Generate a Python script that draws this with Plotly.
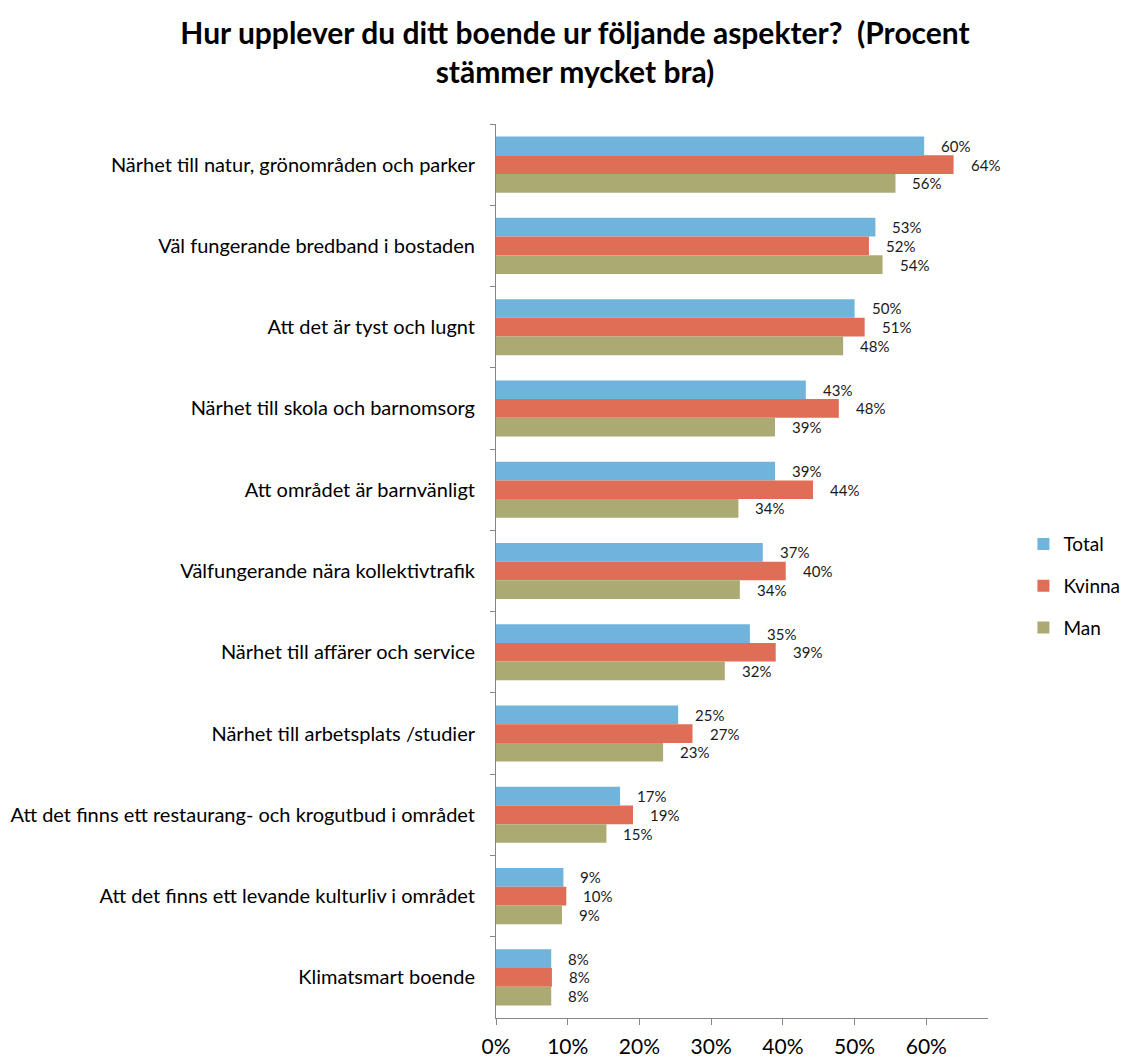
import plotly.graph_objects as go

categories = [
    "Närhet till natur, grönområden och parker",
    "Väl fungerande bredband i bostaden",
    "Att det är tyst och lugnt",
    "Närhet till skola och barnomsorg",
    "Att området är barnvänligt",
    "Välfungerande nära kollektivtrafik",
    "Närhet till affärer och service",
    "Närhet till arbetsplats /studier",
    "Att det finns ett restaurang- och krogutbud i området",
    "Att det finns ett levande kulturliv i området",
    "Klimatsmart boende",
]
total = [0.597, 0.529, 0.500, 0.432, 0.389, 0.372, 0.354, 0.254, 0.173, 0.094, 0.077]
kvinna = [0.638, 0.520, 0.514, 0.478, 0.442, 0.404, 0.390, 0.274, 0.191, 0.098, 0.078]
man = [0.557, 0.539, 0.484, 0.389, 0.338, 0.340, 0.319, 0.233, 0.154, 0.092, 0.077]
series_names = ["Total", "Kvinna", "Man"]
colors = ["#71B4DB", "#E06D56", "#ACAA73"]
x_ticks = [0, 0.1, 0.2, 0.3, 0.4, 0.5, 0.6]

FONT = "Lato"
# page body has an 8px margin, so the figure is sized/positioned to compensate
W, H = 1122, 1049
M_L, M_R, M_T, M_B = 488, 142, 116, 39
BARGAP = 0.31

fig = go.Figure()
for name, vals, col in zip(series_names, [total, kvinna, man], colors):
    fig.add_trace(go.Bar(
        y=categories, x=vals, name=name, orientation="h",
        marker=dict(color=col, line=dict(width=0)),
        legendgroup=name,
    ))

plot_h = H - M_T - M_B
cat_px = plot_h / len(categories)
bar_px = cat_px * (1 - BARGAP) / 3
shifts = [bar_px, 0, -bar_px]
for vals, sh in zip([total, kvinna, man], shifts):
    for c, v in zip(categories, vals):
        fig.add_annotation(
            x=v, y=c, text=f"{round(v*100)}%", showarrow=False,
            xanchor="left", yanchor="middle", xshift=15, yshift=sh,
            font=dict(family=FONT, size=15, color="#1a1a1a"),
        )

fig.update_layout(
    width=W, height=H,
    margin=dict(l=M_L, r=M_R, t=M_T, b=M_B, autoexpand=False),
    paper_bgcolor="white", plot_bgcolor="white",
    barmode="group", bargap=BARGAP, bargroupgap=0,
    title=dict(
        text="Hur upplever du ditt boende ur följande aspekter?\u00a0 (Procent<br>stämmer mycket bra)",
        x=567 / W, xanchor="center", xref="container",
        y=1 - 36 / H, yanchor="middle", yref="container",
        font=dict(family=FONT, size=30, color="black", weight="bold"),
    ),
    legend=dict(
        x=1.072, xanchor="left", y=0.483, yanchor="middle",
        font=dict(family=FONT, size=19, color="black"),
        tracegroupgap=14, traceorder="grouped",
    ),
    font=dict(family=FONT, color="black"),
)
fig.update_yaxes(
    autorange="reversed", type="category",
    tickson="boundaries", ticks="outside", ticklen=5, tickcolor="#868686",
    showline=True, linecolor="#868686", linewidth=1,
    showgrid=False, ticklabelstandoff=16,
    tickfont=dict(family=FONT, size=20, color="black"),
)
fig.update_xaxes(
    range=[0, 0.686], tickvals=x_ticks, tickformat=".0%",
    ticks="outside", ticklen=6, tickcolor="#868686",
    showline=True, linecolor="#868686", linewidth=1,
    showgrid=False, zeroline=False, ticklabelstandoff=4,
    tickfont=dict(family=FONT, size=21, color="black"),
)
fig.write_html("out.html")
